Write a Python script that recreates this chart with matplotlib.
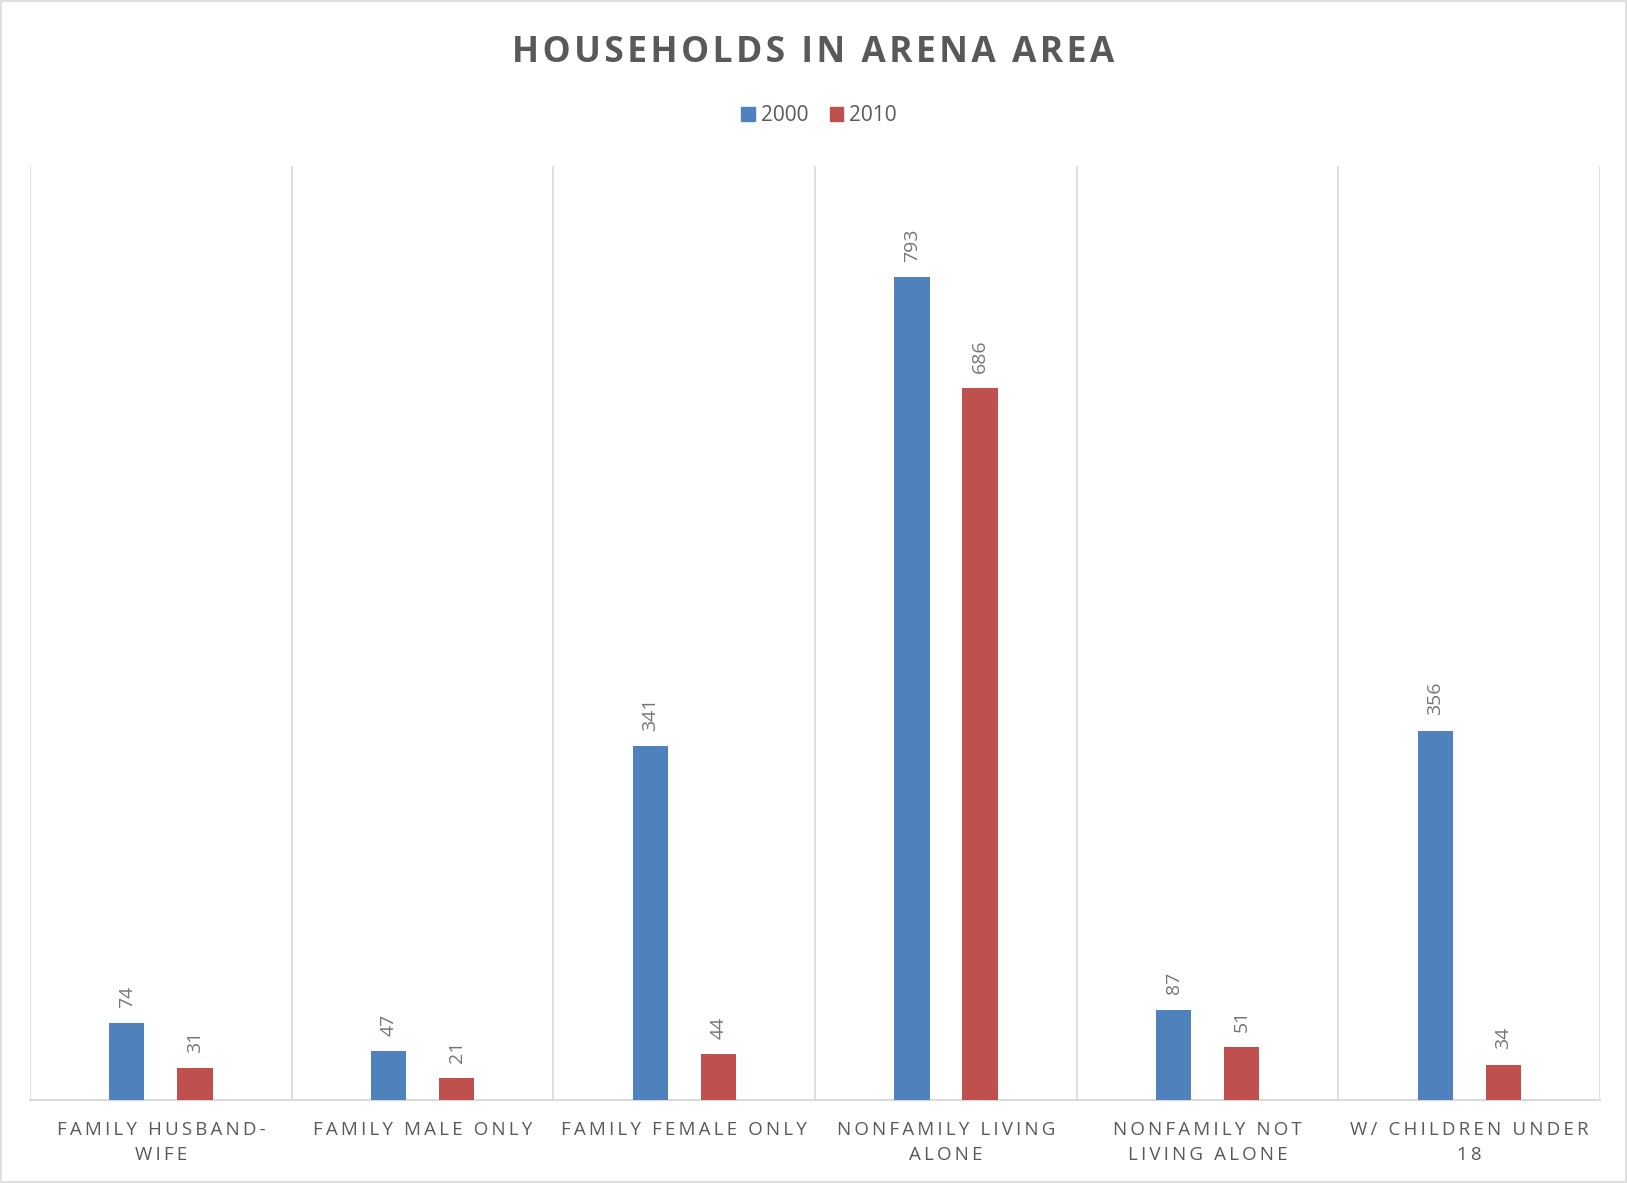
import matplotlib
matplotlib.use("Agg")
import matplotlib.pyplot as plt
import numpy as np
from matplotlib.patches import Rectangle

categories = ["FAMILY HUSBAND-\nWIFE", "FAMILY MALE ONLY", "FAMILY FEMALE ONLY",
              "NONFAMILY LIVING\nALONE", "NONFAMILY NOT\nLIVING ALONE", "W/ CHILDREN UNDER\n18"]
series_names = ["2000", "2010"]
values_2000 = [74, 47, 341, 793, 87, 356]
values_2010 = [31, 21, 44, 686, 51, 34]
colors = ["#4F81BD", "#C0504D"]

def spaced(s, sp="\u200a"):
    return "\n".join(sp.join(list(line)) for line in s.split("\n"))

fig = plt.figure(figsize=(16.27, 11.83), dpi=100)
fig.patch.set_facecolor("white")
fig.add_artist(Rectangle((0.0005, 0.0005), 0.999, 0.999, transform=fig.transFigure,
                         fill=False, edgecolor="#D9D9D9", linewidth=1.2))

ax = fig.add_axes([0.01844, 0.0702, 0.9650, 0.7895])
x = np.arange(len(categories))
w = 0.135
off = 0.13
for vals, c, o in [(values_2000, colors[0], -off), (values_2010, colors[1], off)]:
    bars = ax.bar(x + o, vals, width=w, color=c, zorder=3)
    for b, v in zip(bars, vals):
        ax.annotate(str(v), (b.get_x() + b.get_width() / 2, v), xytext=(0, 11),
                    textcoords="offset points", rotation=90, ha="center", va="bottom",
                    fontsize=14, color="#757575", family="Open Sans")

ax.set_xlim(-0.5, len(categories) - 0.5)
ax.set_ylim(0, 900)
ax.set_yticks([])
for b in np.arange(-0.5, len(categories), 1.0):
    ax.axvline(b, color="#D9D9D9", linewidth=1.2, zorder=1)
for s in ["top", "right", "left"]:
    ax.spines[s].set_visible(False)
ax.spines["bottom"].set_color("#D9D9D9")
ax.spines["bottom"].set_linewidth(1.5)
ax.set_xticks(x)
ax.set_xticklabels([spaced(c, "\u2009") for c in categories], fontsize=13.5, color="#595959",
                   family="Open Sans", linespacing=1.5)
ax.tick_params(axis="x", length=0, pad=15)

fig.text(0.5, 0.9555, spaced("HOUSEHOLDS IN ARENA AREA", "\u200a"), ha="center", va="center",
         fontsize=25.5, fontweight="bold", color="#595959", family="Open Sans")

handles = [Rectangle((0, 0), 1, 1, color=c) for c in colors]
fig.legend(handles, series_names, loc="center", bbox_to_anchor=(0.5035, 0.902), ncol=2,
           frameon=False, handlelength=0.65, handleheight=0.65,
           handletextpad=0.3, columnspacing=1.0, labelcolor="#595959",
           prop={"family": "Open Sans", "size": 15})

fig.savefig("out.png", dpi=100)
